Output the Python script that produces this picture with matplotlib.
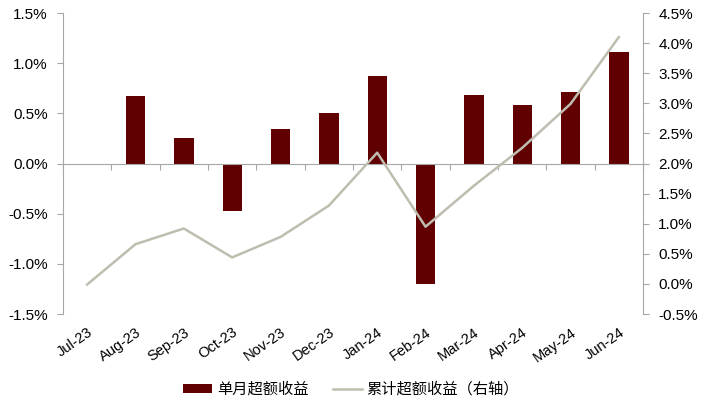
import matplotlib.pyplot as plt
import numpy as np

plt.rcParams['font.family'] = ['Liberation Sans', 'Noto Sans CJK SC', 'DejaVu Sans']

months = ["Jul-23", "Aug-23", "Sep-23", "Oct-23", "Nov-23", "Dec-23",
          "Jan-24", "Feb-24", "Mar-24", "Apr-24", "May-24", "Jun-24"]
monthly = [-0.01, 0.67, 0.25, -0.47, 0.34, 0.50, 0.87, -1.20, 0.68, 0.58, 0.71, 1.11]
cumulative = [-0.01, 0.66, 0.92, 0.44, 0.78, 1.30, 2.18, 0.95, 1.63, 2.26, 2.99, 4.10]

bar_color = "#600000"
line_color = "#BEBDAF"
axis_color = "#A6A6A6"

fig = plt.figure(figsize=(7.11, 4.13), dpi=100)
ax = fig.add_axes([0.0886, 0.2397, 0.8158, 0.7288])
x = np.arange(len(months))

b = ax.bar(x, monthly, width=0.4, color=bar_color, label="单月超额收益", zorder=2)
ax.set_xlim(-0.5, len(months) - 0.5)
ax.set_ylim(-1.5, 1.5)
ax.set_yticks(np.arange(-1.5, 1.51, 0.5))
ax.set_yticklabels([f"{v:.1f}%" for v in np.arange(-1.5, 1.51, 0.5)])

ax2 = ax.twinx()
l, = ax2.plot(x, cumulative, color=line_color, lw=1.8, label="累计超额收益（右轴）", zorder=3)
ax2.set_ylim(-0.5, 4.5)
ax2.set_yticks(np.arange(-0.5, 4.51, 0.5))
ax2.set_yticklabels([f"{v:.1f}%" for v in np.arange(-0.5, 4.51, 0.5)])

for a in (ax, ax2):
    a.spines['top'].set_visible(False)
    a.spines['left'].set_color(axis_color)
    a.spines['right'].set_color(axis_color)
    a.tick_params(axis='y', colors=axis_color, labelcolor='black', labelsize=11,
                  length=4, pad=7)

ax.spines['right'].set_visible(False)
ax2.spines['left'].set_visible(False)
ax2.spines['bottom'].set_visible(False)

# zero line with ticks between categories
ax.spines['bottom'].set_position(('data', 0))
ax.spines['bottom'].set_color(axis_color)
ax.set_xticks(np.arange(-0.5, len(months) - 0.4, 1.0))
ax.set_xticklabels([])
ax.tick_params(axis='x', colors=axis_color, length=4, direction='out')

sec = ax.secondary_xaxis(0.0)
sec.set_xticks(x)
sec.set_xticklabels(months, rotation=35, ha='right', rotation_mode='anchor')
sec.tick_params(axis='x', length=0, labelsize=10.5, pad=8)
sec.spines['bottom'].set_visible(False)

fig.legend(handles=[b, l], loc='center', bbox_to_anchor=(0.494, 0.058), ncol=2,
           frameon=False, handlelength=1.9, handleheight=0.55, handletextpad=0.3,
           columnspacing=1.6,
           prop={'family': ['Noto Sans CJK SC', 'DejaVu Sans'], 'size': 11})

fig.savefig("out.png", dpi=100)
